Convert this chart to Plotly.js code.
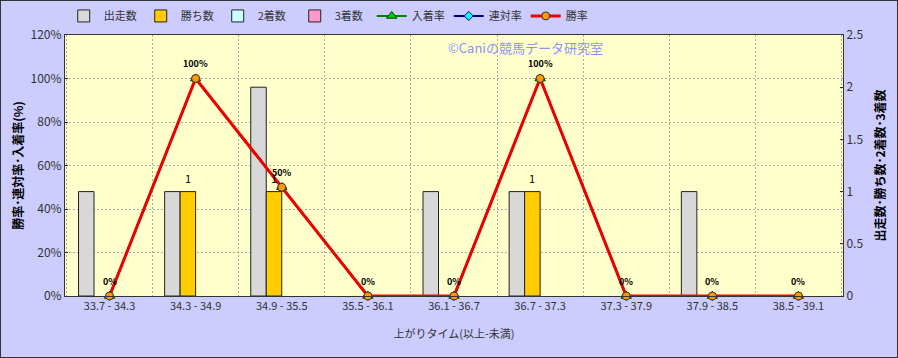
<!DOCTYPE html>
<html><head><meta charset="utf-8">
<script src="https://cdn.plot.ly/plotly-3.0.1.min.js"></script>
<style>html,body{margin:0;padding:0;background:#ccccff;}#c{width:896px;height:356px;border:1px solid #333;}</style>
</head><body><div id="c"></div>
<script>
const categories = ["33.7 - 34.3","34.3 - 34.9","34.9 - 35.5","35.5 - 36.1","36.1 - 36.7","36.7 - 37.3","37.3 - 37.9","37.9 - 38.5","38.5 - 39.1"];
const runs   = [1,1,2,0,1,1,0,1,0];   // 出走数
const wins   = [0,1,1,0,0,1,0,0,0];   // 勝ち数
const second = [0,0,0,0,0,0,0,0,0];   // 2着数
const third  = [0,0,0,0,0,0,0,0,0];   // 3着数
const placeRate = [0,100,50,0,0,100,0,0,0]; // 入着率
const rentaiRate = [0,100,50,0,0,100,0,0,0]; // 連対率
const winRate = [0,100,50,0,0,100,0,0,0];  // 勝率

const F = '"Noto Sans CJK JP", "Noto Sans", sans-serif';
const nz = a => a.map(v => v ? v : null);
const traces = [
 {type:'bar', name:'出走数', x:categories, y:nz(runs), yaxis:'y', marker:{color:'#d8d8d8', line:{color:'#222', width:1}}},
 {type:'bar', name:'勝ち数', x:categories, y:nz(wins), yaxis:'y', marker:{color:'#ffcc00', line:{color:'#222', width:1}}},
 {type:'bar', name:'2着数', x:categories, y:nz(second), yaxis:'y', marker:{color:'#ccffff', line:{color:'#222', width:1}}},
 {type:'bar', name:'3着数', x:categories, y:nz(third), yaxis:'y', marker:{color:'#ff99cc', line:{color:'#222', width:1}}},
 {type:'scatter', mode:'lines+markers', name:'入着率', x:categories, y:placeRate, yaxis:'y2', cliponaxis:false,
   line:{color:'#008000', width:2}, marker:{symbol:'triangle-up', size:9, color:'#00cc00', line:{color:'#004000', width:1}}},
 {type:'scatter', mode:'lines+markers', name:'連対率', x:categories, y:rentaiRate, yaxis:'y2', cliponaxis:false,
   line:{color:'#000080', width:2}, marker:{symbol:'diamond', size:7, color:'#00ffff', line:{color:'#000080', width:1}}},
 {type:'scatter', mode:'lines+markers', name:'勝率', x:categories, y:winRate, yaxis:'y2', cliponaxis:false,
   line:{color:'#ee0000', width:3}, marker:{symbol:'circle', size:8, color:'#ff9900', line:{color:'#333', width:1}}}
];
const annotations = [{text:'©Caniの競馬データ研究室', xref:'paper', yref:'paper', x:0.592, y:0.952, yanchor:'middle', showarrow:false,
   font:{size:13, color:'#8f8fff', family:F}}];
winRate.forEach((v,i) => annotations.push({text:v+'%', x:categories[i], y:v, xref:'x', yref:'y2', yshift:15, showarrow:false,
   font:{size:9, color:'#000', family:F, weight:'bold'}}));
wins.forEach((v,i) => { if (v) annotations.push({text:String(v), x:categories[i], y:v, xref:'x', yref:'y', xshift:-8, yshift:14, showarrow:false,
   font:{size:11, color:'#000', family:F}}); });
const layout = {
 width:896, height:356,
 margin:{l:64, r:54, t:34, b:61},
 paper_bgcolor:'#ccccff', plot_bgcolor:'#ffffcc',
 font:{family:F, size:11, color:'#333'},
 barmode:'group', bargap:0.28, bargroupgap:0,
 showlegend:true,
 legend:{orientation:'h', xref:'container', yref:'container', x:0.07, xanchor:'left', y:0.958, yanchor:'middle',
   font:{size:11, color:'#333'}, bgcolor:'rgba(0,0,0,0)', traceorder:'normal', entrywidth:32},
 xaxis:{type:'category', tickson:'boundaries', showgrid:true, gridcolor:'#aaaaaa', griddash:'2px,2px', gridwidth:1,
   ticks:'', showline:true, linecolor:'#333', mirror:true, tickfont:{size:11, color:'#333'},
   title:{text:'上がりタイム(以上-未満)', font:{size:11, color:'#333'}, standoff:18}},
 yaxis:{range:[0,2.5], dtick:0.5, side:'right', showgrid:false, ticks:'inside', ticklen:3, tickcolor:'#333',
   showline:true, linecolor:'#333', zeroline:false, tickfont:{size:12, color:'#333'},
   title:{text:'出走数･勝ち数･2着数･3着数', font:{size:12, color:'#000', weight:'bold'}, standoff:14}},
 yaxis2:{range:[0,120], dtick:20, ticksuffix:'%', side:'left', overlaying:'y', showgrid:true, gridcolor:'#aaaaaa', griddash:'2px,2px',
   ticks:'inside', ticklen:3, tickcolor:'#333', showline:true, linecolor:'#333', zeroline:false, tickfont:{size:12, color:'#333'},
   title:{text:'勝率･連対率･入着率(%)', font:{size:12, color:'#000', weight:'bold'}, standoff:4}},
 annotations: annotations
};
Plotly.newPlot('c', traces, layout, {displayModeBar:false, staticPlot:true});
</script></body></html>
